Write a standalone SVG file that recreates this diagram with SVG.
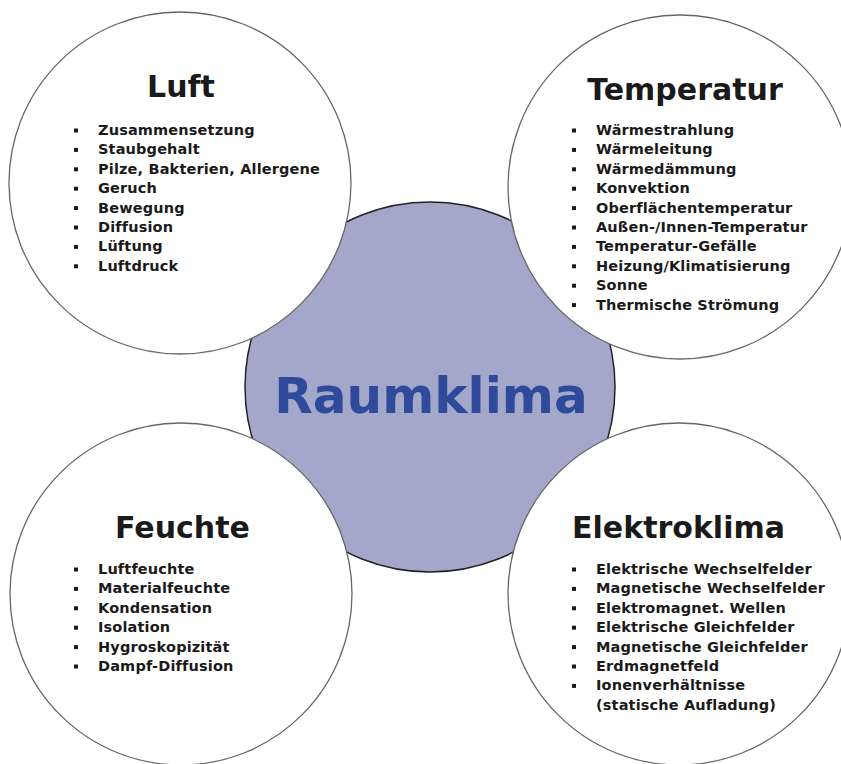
<svg xmlns="http://www.w3.org/2000/svg" width="841" height="764" viewBox="0 0 841 764">
<style>
.bg{fill:#ffffff}
.hub{fill:#a3a7c9;stroke:#222;stroke-width:1.5}
.sat{fill:#ffffff;stroke:#666;stroke-width:1.3}
.title{font-family:"DejaVu Sans",Verdana,sans-serif;font-weight:bold;font-size:30px;fill:#1a1a1a;text-anchor:middle}
.hubt{font-family:"DejaVu Sans",Verdana,sans-serif;font-weight:bold;font-size:50px;fill:#2f4a9a;text-anchor:middle}
.item{font-family:"DejaVu Sans",Verdana,sans-serif;font-weight:bold;font-size:14.5px;letter-spacing:0.15px;fill:#1a1a1a}
.b{fill:#1a1a1a}
</style>
<defs>
<rect id="bul" class="b" x="0" y="0" width="4" height="4"/>
</defs>
<rect class="bg" x="0" y="0" width="841" height="764"/>
<g id="raumklima">
<circle class="hub" cx="430" cy="387" r="185"/>
<text class="hubt" x="431" y="413">Raumklima</text>
</g>
<g id="connectors"></g>
<g id="luft">
<circle class="sat" cx="180" cy="183" r="171"/>
<text class="title" x="181" y="97">Luft</text>
<g>
<use href="#bul" x="74" y="128.5"/><text class="item" x="98" y="135">Zusammensetzung</text>
<use href="#bul" x="74" y="147.9"/><text class="item" x="98" y="154.4">Staubgehalt</text>
<use href="#bul" x="74" y="167.3"/><text class="item" x="98" y="173.8">Pilze, Bakterien, Allergene</text>
<use href="#bul" x="74" y="186.7"/><text class="item" x="98" y="193.2">Geruch</text>
<use href="#bul" x="74" y="206.1"/><text class="item" x="98" y="212.6">Bewegung</text>
<use href="#bul" x="74" y="225.5"/><text class="item" x="98" y="232">Diffusion</text>
<use href="#bul" x="74" y="244.9"/><text class="item" x="98" y="251.4">Lüftung</text>
<use href="#bul" x="74" y="264.3"/><text class="item" x="98" y="270.8">Luftdruck</text>
</g>
</g>
<g id="temperatur">
<circle class="sat" cx="680" cy="187" r="172"/>
<text class="title" x="685" y="100">Temperatur</text>
<g>
<use href="#bul" x="572" y="128.5"/><text class="item" x="596" y="135">Wärmestrahlung</text>
<use href="#bul" x="572" y="147.9"/><text class="item" x="596" y="154.4">Wärmeleitung</text>
<use href="#bul" x="572" y="167.3"/><text class="item" x="596" y="173.8">Wärmedämmung</text>
<use href="#bul" x="572" y="186.7"/><text class="item" x="596" y="193.2">Konvektion</text>
<use href="#bul" x="572" y="206.1"/><text class="item" x="596" y="212.6">Oberflächentemperatur</text>
<use href="#bul" x="572" y="225.5"/><text class="item" x="596" y="232">Außen-/Innen-Temperatur</text>
<use href="#bul" x="572" y="244.9"/><text class="item" x="596" y="251.4">Temperatur-Gefälle</text>
<use href="#bul" x="572" y="264.3"/><text class="item" x="596" y="270.8">Heizung/Klimatisierung</text>
<use href="#bul" x="572" y="283.7"/><text class="item" x="596" y="290.2">Sonne</text>
<use href="#bul" x="572" y="303.1"/><text class="item" x="596" y="309.6">Thermische Strömung</text>
</g>
</g>
<g id="feuchte">
<circle class="sat" cx="181" cy="594" r="171"/>
<text class="title" x="182.5" y="538">Feuchte</text>
<g>
<use href="#bul" x="74" y="567.5"/><text class="item" x="98" y="574">Luftfeuchte</text>
<use href="#bul" x="74" y="586.9"/><text class="item" x="98" y="593.4">Materialfeuchte</text>
<use href="#bul" x="74" y="606.3"/><text class="item" x="98" y="612.8">Kondensation</text>
<use href="#bul" x="74" y="625.7"/><text class="item" x="98" y="632.2">Isolation</text>
<use href="#bul" x="74" y="645.1"/><text class="item" x="98" y="651.6">Hygroskopizität</text>
<use href="#bul" x="74" y="664.5"/><text class="item" x="98" y="671">Dampf-Diffusion</text>
</g>
</g>
<g id="elektroklima">
<circle class="sat" cx="679" cy="594" r="171"/>
<text class="title" x="678.5" y="538">Elektroklima</text>
<g>
<use href="#bul" x="572" y="567.5"/><text class="item" x="596" y="574">Elektrische Wechselfelder</text>
<use href="#bul" x="572" y="586.9"/><text class="item" x="596" y="593.4">Magnetische Wechselfelder</text>
<use href="#bul" x="572" y="606.3"/><text class="item" x="596" y="612.8">Elektromagnet. Wellen</text>
<use href="#bul" x="572" y="625.7"/><text class="item" x="596" y="632.2">Elektrische Gleichfelder</text>
<use href="#bul" x="572" y="645.1"/><text class="item" x="596" y="651.6">Magnetische Gleichfelder</text>
<use href="#bul" x="572" y="664.5"/><text class="item" x="596" y="671">Erdmagnetfeld</text>
<use href="#bul" x="572" y="683.9"/><text class="item" x="596" y="690.4">Ionenverhältnisse</text>
<text class="item" x="596" y="709.8">(statische Aufladung)</text>
</g>
</g>
</svg>
